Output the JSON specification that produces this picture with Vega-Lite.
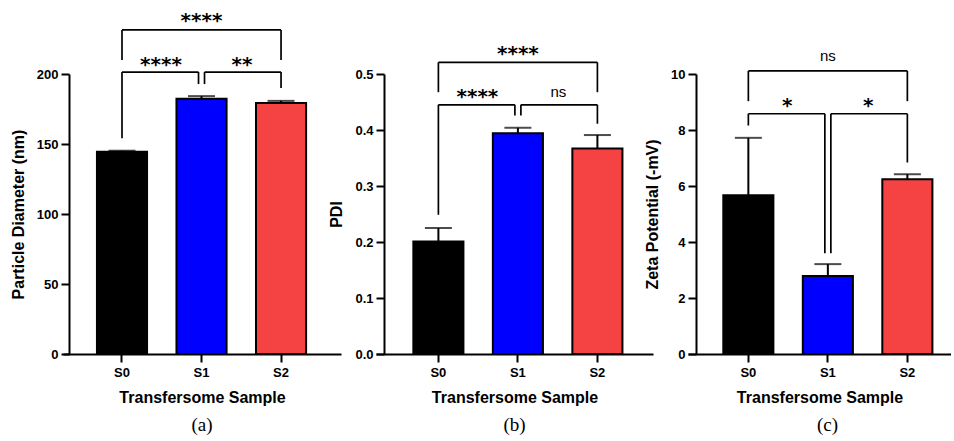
{
  "$schema": "https://vega.github.io/schema/vega-lite/v6.json",
  "padding": {"left": 10, "top": 10, "right": 0, "bottom": 0},
  "background": "white",
  "config": {
    "view": {"stroke": null},
    "font": "Liberation Sans",
    "axis": {"domainColor": "black", "domainWidth": 2, "tickColor": "black", "tickWidth": 2, "grid": false,
      "labelFont": "Liberation Sans", "labelFontWeight": "bold", "labelFontSize": 13, "labelColor": "black",
      "titleFont": "Liberation Sans", "titleFontWeight": "bold", "titleFontSize": 16, "titleColor": "black"},
    "axisX": {"labelAngle": 0, "tickSize": 8, "labelPadding": 4, "titlePadding": 10},
    "axisY": {"tickSize": 8, "labelPadding": 3, "titlePadding": 10},
    "title": {"font": "Liberation Serif", "fontSize": 19, "fontWeight": "normal", "color": "black", "offset": 11, "anchor": "middle", "frame": "group"}
  },
  "datasets": {
    "a_bars": [{"s": "S0", "m": 144.5, "e": 145.2}, {"s": "S1", "m": 182.4, "e": 184.2}, {"s": "S2", "m": 179.2, "e": 180.8}],
    "a_br": [
      {"k": "full", "a": "S0", "b": "S2", "y": 231.5, "ya": 210.0, "yb": 210.0, "t": "****", "ty": 241.6},
      {"k": "L", "a": "S0", "b": "S1", "y": 201.4, "ya": 154.1, "yb": 192.8, "t": "****", "ty": 210.0},
      {"k": "R", "a": "S1", "b": "S2", "y": 201.4, "ya": 192.8, "yb": 190.0, "t": "**", "ty": 210.0}
    ],
    "b_bars": [{"s": "S0", "m": 0.201, "e": 0.225}, {"s": "S1", "m": 0.394, "e": 0.404}, {"s": "S2", "m": 0.367, "e": 0.391}],
    "b_br": [
      {"k": "full", "a": "S0", "b": "S2", "y": 0.5208, "ya": 0.4675, "yb": 0.4675, "t": "****", "ty": 0.5444},
      {"k": "L", "a": "S0", "b": "S1", "y": 0.445, "ya": 0.2486, "yb": 0.4261, "t": "****", "ty": 0.468},
      {"k": "R", "a": "S1", "b": "S2", "y": 0.445, "ya": 0.4261, "yb": 0.4112, "t": "ns", "ty": 0.468}
    ],
    "c_bars": [{"s": "S0", "m": 5.67, "e": 7.72}, {"s": "S1", "m": 2.79, "e": 3.21}, {"s": "S2", "m": 6.24, "e": 6.42}],
    "c_br": [
      {"k": "full", "a": "S0", "b": "S2", "y": 10.11, "ya": 9.03, "yb": 9.03, "t": "ns", "ty": 10.63},
      {"k": "L", "a": "S0", "b": "S1", "y": 8.58, "ya": 8.16, "yb": 3.6, "t": "*", "ty": 9.05},
      {"k": "R", "a": "S1", "b": "S2", "y": 8.58, "ya": 3.6, "yb": 6.84, "t": "*", "ty": 9.05}
    ]
  },
  "bounds": "flush",
  "spacing": 35,
  "hconcat": [
    {
      "width": 278, "height": 280,
      "title": {"text": "(a)", "orient": "bottom"},
      "layer": [
        {"data": {"name": "a_bars"}, "mark": {"type": "bar", "stroke": "black", "strokeWidth": 2},
          "encoding": {
            "x": {"field": "s", "type": "nominal", "title": "Transfersome Sample", "scale": {"domain": ["S0", "S1", "S2"], "paddingInner": 0.37, "paddingOuter": 0.433, "align": 0.493}},
            "y": {"field": "m", "type": "quantitative", "title": "Particle Diameter (nm)", "scale": {"domain": [0, 200], "nice": false}, "axis": {"values": [0, 50, 100, 150, 200], "offset": -6}},
            "color": {"field": "s", "type": "nominal", "scale": {"domain": ["S0", "S1", "S2"], "range": ["#000000", "#0000ff", "#f54343"]}, "legend": null}
          }},
        {"data": {"name": "a_bars"}, "mark": {"type": "rule", "color": "black", "strokeWidth": 2},
          "encoding": {"x": {"field": "s", "type": "nominal", "title": "Transfersome Sample"}, "y": {"field": "m", "type": "quantitative", "title": "Particle Diameter (nm)"}, "y2": {"field": "e"}}},
        {"data": {"name": "a_bars"}, "mark": {"type": "tick", "color": "black", "size": 27, "thickness": 2},
          "encoding": {"x": {"field": "s", "type": "nominal", "title": "Transfersome Sample"}, "y": {"field": "e", "type": "quantitative", "title": "Particle Diameter (nm)"}}},
        {"data": {"name": "a_br"}, "transform": [{"filter": "datum.k == 'full'"}], "mark": {"type": "rule", "color": "black", "strokeWidth": 1.7},
          "encoding": {"x": {"field": "a", "type": "nominal", "title": "Transfersome Sample"}, "x2": {"field": "b"}, "y": {"field": "y", "type": "quantitative", "title": "Particle Diameter (nm)"}}},
        {"data": {"name": "a_br"}, "transform": [{"filter": "datum.k == 'L'"}], "mark": {"type": "rule", "color": "black", "strokeWidth": 1.7, "x2Offset": -3},
          "encoding": {"x": {"field": "a", "type": "nominal", "title": "Transfersome Sample"}, "x2": {"field": "b"}, "y": {"field": "y", "type": "quantitative", "title": "Particle Diameter (nm)"}}},
        {"data": {"name": "a_br"}, "transform": [{"filter": "datum.k == 'R'"}], "mark": {"type": "rule", "color": "black", "strokeWidth": 1.7, "xOffset": 3},
          "encoding": {"x": {"field": "a", "type": "nominal", "title": "Transfersome Sample"}, "x2": {"field": "b"}, "y": {"field": "y", "type": "quantitative", "title": "Particle Diameter (nm)"}}},
        {"data": {"name": "a_br"}, "transform": [{"filter": "datum.k != 'R'"}], "mark": {"type": "rule", "color": "black", "strokeWidth": 1.7},
          "encoding": {"x": {"field": "a", "type": "nominal", "title": "Transfersome Sample"}, "y": {"field": "y", "type": "quantitative", "title": "Particle Diameter (nm)"}, "y2": {"field": "ya"}}},
        {"data": {"name": "a_br"}, "transform": [{"filter": "datum.k == 'R'"}], "mark": {"type": "rule", "color": "black", "strokeWidth": 1.7, "xOffset": 3},
          "encoding": {"x": {"field": "a", "type": "nominal", "title": "Transfersome Sample"}, "y": {"field": "y", "type": "quantitative", "title": "Particle Diameter (nm)"}, "y2": {"field": "ya"}}},
        {"data": {"name": "a_br"}, "transform": [{"filter": "datum.k != 'L'"}], "mark": {"type": "rule", "color": "black", "strokeWidth": 1.7},
          "encoding": {"x": {"field": "b", "type": "nominal", "title": "Transfersome Sample"}, "y": {"field": "y", "type": "quantitative", "title": "Particle Diameter (nm)"}, "y2": {"field": "yb"}}},
        {"data": {"name": "a_br"}, "transform": [{"filter": "datum.k == 'L'"}], "mark": {"type": "rule", "color": "black", "strokeWidth": 1.7, "xOffset": -3},
          "encoding": {"x": {"field": "b", "type": "nominal", "title": "Transfersome Sample"}, "y": {"field": "y", "type": "quantitative", "title": "Particle Diameter (nm)"}, "y2": {"field": "yb"}}},
        {"data": {"name": "a_br"}, "transform": [{"filter": "datum.k == 'full' && datum.t != 'ns'"}], "mark": {"type": "text", "font": "DejaVu Sans", "fontWeight": "bold", "fontSize": 20, "baseline": "middle", "dy": 5, "color": "black"},
          "encoding": {"x": {"datum": "S1", "type": "nominal", "title": "Transfersome Sample"}, "y": {"field": "ty", "type": "quantitative", "title": "Particle Diameter (nm)"}, "text": {"field": "t"}}},
        {"data": {"name": "a_br"}, "transform": [{"filter": "datum.k == 'L'"}], "mark": {"type": "text", "font": "DejaVu Sans", "fontWeight": "bold", "fontSize": 20, "baseline": "middle", "dy": 5, "dx": 39, "color": "black"},
          "encoding": {"x": {"field": "a", "type": "nominal", "title": "Transfersome Sample"}, "y": {"field": "ty", "type": "quantitative", "title": "Particle Diameter (nm)"}, "text": {"field": "t"}}},
        {"data": {"name": "a_br"}, "transform": [{"filter": "datum.k == 'R' && datum.t != 'ns'"}], "mark": {"type": "text", "font": "DejaVu Sans", "fontWeight": "bold", "fontSize": 20, "baseline": "middle", "dy": 5, "dx": -39, "color": "black"},
          "encoding": {"x": {"field": "b", "type": "nominal", "title": "Transfersome Sample"}, "y": {"field": "ty", "type": "quantitative", "title": "Particle Diameter (nm)"}, "text": {"field": "t"}}}
      ]
    },
    {
      "width": 277, "height": 280,
      "title": {"text": "(b)", "orient": "bottom"},
      "layer": [
        {"data": {"name": "b_bars"}, "mark": {"type": "bar", "stroke": "black", "strokeWidth": 2},
          "encoding": {
            "x": {"field": "s", "type": "nominal", "title": "Transfersome Sample", "scale": {"domain": ["S0", "S1", "S2"], "paddingInner": 0.37, "paddingOuter": 0.427, "align": 0.55}},
            "y": {"field": "m", "type": "quantitative", "title": "PDI", "scale": {"domain": [0, 0.5], "nice": false}, "axis": {"values": [0, 0.1, 0.2, 0.3, 0.4, 0.5], "format": ".1f", "offset": -8}},
            "color": {"field": "s", "type": "nominal", "scale": {"domain": ["S0", "S1", "S2"], "range": ["#000000", "#0000ff", "#f54343"]}, "legend": null}
          }},
        {"data": {"name": "b_bars"}, "mark": {"type": "rule", "color": "black", "strokeWidth": 2},
          "encoding": {"x": {"field": "s", "type": "nominal", "title": "Transfersome Sample"}, "y": {"field": "m", "type": "quantitative", "title": "PDI"}, "y2": {"field": "e"}}},
        {"data": {"name": "b_bars"}, "mark": {"type": "tick", "color": "black", "size": 27, "thickness": 2},
          "encoding": {"x": {"field": "s", "type": "nominal", "title": "Transfersome Sample"}, "y": {"field": "e", "type": "quantitative", "title": "PDI"}}},
        {"data": {"name": "b_br"}, "transform": [{"filter": "datum.k == 'full'"}], "mark": {"type": "rule", "color": "black", "strokeWidth": 1.7},
          "encoding": {"x": {"field": "a", "type": "nominal", "title": "Transfersome Sample"}, "x2": {"field": "b"}, "y": {"field": "y", "type": "quantitative", "title": "PDI"}}},
        {"data": {"name": "b_br"}, "transform": [{"filter": "datum.k == 'L'"}], "mark": {"type": "rule", "color": "black", "strokeWidth": 1.7, "x2Offset": -3},
          "encoding": {"x": {"field": "a", "type": "nominal", "title": "Transfersome Sample"}, "x2": {"field": "b"}, "y": {"field": "y", "type": "quantitative", "title": "PDI"}}},
        {"data": {"name": "b_br"}, "transform": [{"filter": "datum.k == 'R'"}], "mark": {"type": "rule", "color": "black", "strokeWidth": 1.7, "xOffset": 3},
          "encoding": {"x": {"field": "a", "type": "nominal", "title": "Transfersome Sample"}, "x2": {"field": "b"}, "y": {"field": "y", "type": "quantitative", "title": "PDI"}}},
        {"data": {"name": "b_br"}, "transform": [{"filter": "datum.k != 'R'"}], "mark": {"type": "rule", "color": "black", "strokeWidth": 1.7},
          "encoding": {"x": {"field": "a", "type": "nominal", "title": "Transfersome Sample"}, "y": {"field": "y", "type": "quantitative", "title": "PDI"}, "y2": {"field": "ya"}}},
        {"data": {"name": "b_br"}, "transform": [{"filter": "datum.k == 'R'"}], "mark": {"type": "rule", "color": "black", "strokeWidth": 1.7, "xOffset": 3},
          "encoding": {"x": {"field": "a", "type": "nominal", "title": "Transfersome Sample"}, "y": {"field": "y", "type": "quantitative", "title": "PDI"}, "y2": {"field": "ya"}}},
        {"data": {"name": "b_br"}, "transform": [{"filter": "datum.k != 'L'"}], "mark": {"type": "rule", "color": "black", "strokeWidth": 1.7},
          "encoding": {"x": {"field": "b", "type": "nominal", "title": "Transfersome Sample"}, "y": {"field": "y", "type": "quantitative", "title": "PDI"}, "y2": {"field": "yb"}}},
        {"data": {"name": "b_br"}, "transform": [{"filter": "datum.k == 'L'"}], "mark": {"type": "rule", "color": "black", "strokeWidth": 1.7, "xOffset": -3},
          "encoding": {"x": {"field": "b", "type": "nominal", "title": "Transfersome Sample"}, "y": {"field": "y", "type": "quantitative", "title": "PDI"}, "y2": {"field": "yb"}}},
        {"data": {"name": "b_br"}, "transform": [{"filter": "datum.k == 'full' && datum.t != 'ns'"}], "mark": {"type": "text", "font": "DejaVu Sans", "fontWeight": "bold", "fontSize": 20, "baseline": "middle", "dy": 5, "color": "black"},
          "encoding": {"x": {"datum": "S1", "type": "nominal", "title": "Transfersome Sample"}, "y": {"field": "ty", "type": "quantitative", "title": "PDI"}, "text": {"field": "t"}}},
        {"data": {"name": "b_br"}, "transform": [{"filter": "datum.k == 'L'"}], "mark": {"type": "text", "font": "DejaVu Sans", "fontWeight": "bold", "fontSize": 20, "baseline": "middle", "dy": 5, "dx": 39, "color": "black"},
          "encoding": {"x": {"field": "a", "type": "nominal", "title": "Transfersome Sample"}, "y": {"field": "ty", "type": "quantitative", "title": "PDI"}, "text": {"field": "t"}}},
        {"data": {"name": "b_br"}, "transform": [{"filter": "datum.k == 'R' && datum.t == 'ns'"}], "mark": {"type": "text", "font": "Liberation Sans", "fontSize": 15, "baseline": "middle", "dx": -39, "color": "black"},
          "encoding": {"x": {"field": "b", "type": "nominal", "title": "Transfersome Sample"}, "y": {"field": "ty", "type": "quantitative", "title": "PDI"}, "text": {"field": "t"}}}
      ]
    },
    {
      "width": 263, "height": 280,
      "title": {"text": "(c)", "orient": "bottom", "dx": 8},
      "layer": [
        {"data": {"name": "c_bars"}, "mark": {"type": "bar", "stroke": "black", "strokeWidth": 2},
          "encoding": {
            "x": {"field": "s", "type": "nominal", "title": "Transfersome Sample", "scale": {"domain": ["S0", "S1", "S2"], "paddingInner": 0.37, "paddingOuter": 0.339, "align": 0.655}},
            "y": {"field": "m", "type": "quantitative", "title": "Zeta Potential (-mV)", "scale": {"domain": [0, 10], "nice": false}, "axis": {"values": [0, 2, 4, 6, 8, 10], "offset": -8}},
            "color": {"field": "s", "type": "nominal", "scale": {"domain": ["S0", "S1", "S2"], "range": ["#000000", "#0000ff", "#f54343"]}, "legend": null}
          }},
        {"data": {"name": "c_bars"}, "mark": {"type": "rule", "color": "black", "strokeWidth": 2},
          "encoding": {"x": {"field": "s", "type": "nominal", "title": "Transfersome Sample"}, "y": {"field": "m", "type": "quantitative", "title": "Zeta Potential (-mV)"}, "y2": {"field": "e"}}},
        {"data": {"name": "c_bars"}, "mark": {"type": "tick", "color": "black", "size": 27, "thickness": 2},
          "encoding": {"x": {"field": "s", "type": "nominal", "title": "Transfersome Sample"}, "y": {"field": "e", "type": "quantitative", "title": "Zeta Potential (-mV)"}}},
        {"data": {"name": "c_br"}, "transform": [{"filter": "datum.k == 'full'"}], "mark": {"type": "rule", "color": "black", "strokeWidth": 1.7},
          "encoding": {"x": {"field": "a", "type": "nominal", "title": "Transfersome Sample"}, "x2": {"field": "b"}, "y": {"field": "y", "type": "quantitative", "title": "Zeta Potential (-mV)"}}},
        {"data": {"name": "c_br"}, "transform": [{"filter": "datum.k == 'L'"}], "mark": {"type": "rule", "color": "black", "strokeWidth": 1.7, "x2Offset": -3},
          "encoding": {"x": {"field": "a", "type": "nominal", "title": "Transfersome Sample"}, "x2": {"field": "b"}, "y": {"field": "y", "type": "quantitative", "title": "Zeta Potential (-mV)"}}},
        {"data": {"name": "c_br"}, "transform": [{"filter": "datum.k == 'R'"}], "mark": {"type": "rule", "color": "black", "strokeWidth": 1.7, "xOffset": 3},
          "encoding": {"x": {"field": "a", "type": "nominal", "title": "Transfersome Sample"}, "x2": {"field": "b"}, "y": {"field": "y", "type": "quantitative", "title": "Zeta Potential (-mV)"}}},
        {"data": {"name": "c_br"}, "transform": [{"filter": "datum.k != 'R'"}], "mark": {"type": "rule", "color": "black", "strokeWidth": 1.7},
          "encoding": {"x": {"field": "a", "type": "nominal", "title": "Transfersome Sample"}, "y": {"field": "y", "type": "quantitative", "title": "Zeta Potential (-mV)"}, "y2": {"field": "ya"}}},
        {"data": {"name": "c_br"}, "transform": [{"filter": "datum.k == 'R'"}], "mark": {"type": "rule", "color": "black", "strokeWidth": 1.7, "xOffset": 3},
          "encoding": {"x": {"field": "a", "type": "nominal", "title": "Transfersome Sample"}, "y": {"field": "y", "type": "quantitative", "title": "Zeta Potential (-mV)"}, "y2": {"field": "ya"}}},
        {"data": {"name": "c_br"}, "transform": [{"filter": "datum.k != 'L'"}], "mark": {"type": "rule", "color": "black", "strokeWidth": 1.7},
          "encoding": {"x": {"field": "b", "type": "nominal", "title": "Transfersome Sample"}, "y": {"field": "y", "type": "quantitative", "title": "Zeta Potential (-mV)"}, "y2": {"field": "yb"}}},
        {"data": {"name": "c_br"}, "transform": [{"filter": "datum.k == 'L'"}], "mark": {"type": "rule", "color": "black", "strokeWidth": 1.7, "xOffset": -3},
          "encoding": {"x": {"field": "b", "type": "nominal", "title": "Transfersome Sample"}, "y": {"field": "y", "type": "quantitative", "title": "Zeta Potential (-mV)"}, "y2": {"field": "yb"}}},
        {"data": {"name": "c_br"}, "transform": [{"filter": "datum.k == 'full' && datum.t == 'ns'"}], "mark": {"type": "text", "font": "Liberation Sans", "fontSize": 15, "baseline": "middle", "color": "black"},
          "encoding": {"x": {"datum": "S1", "type": "nominal", "title": "Transfersome Sample"}, "y": {"field": "ty", "type": "quantitative", "title": "Zeta Potential (-mV)"}, "text": {"field": "t"}}},
        {"data": {"name": "c_br"}, "transform": [{"filter": "datum.k == 'L'"}], "mark": {"type": "text", "font": "DejaVu Sans", "fontWeight": "bold", "fontSize": 20, "baseline": "middle", "dy": 5, "dx": 39, "color": "black"},
          "encoding": {"x": {"field": "a", "type": "nominal", "title": "Transfersome Sample"}, "y": {"field": "ty", "type": "quantitative", "title": "Zeta Potential (-mV)"}, "text": {"field": "t"}}},
        {"data": {"name": "c_br"}, "transform": [{"filter": "datum.k == 'R' && datum.t != 'ns'"}], "mark": {"type": "text", "font": "DejaVu Sans", "fontWeight": "bold", "fontSize": 20, "baseline": "middle", "dy": 5, "dx": -39, "color": "black"},
          "encoding": {"x": {"field": "b", "type": "nominal", "title": "Transfersome Sample"}, "y": {"field": "ty", "type": "quantitative", "title": "Zeta Potential (-mV)"}, "text": {"field": "t"}}}
      ]
    }
  ]
}
